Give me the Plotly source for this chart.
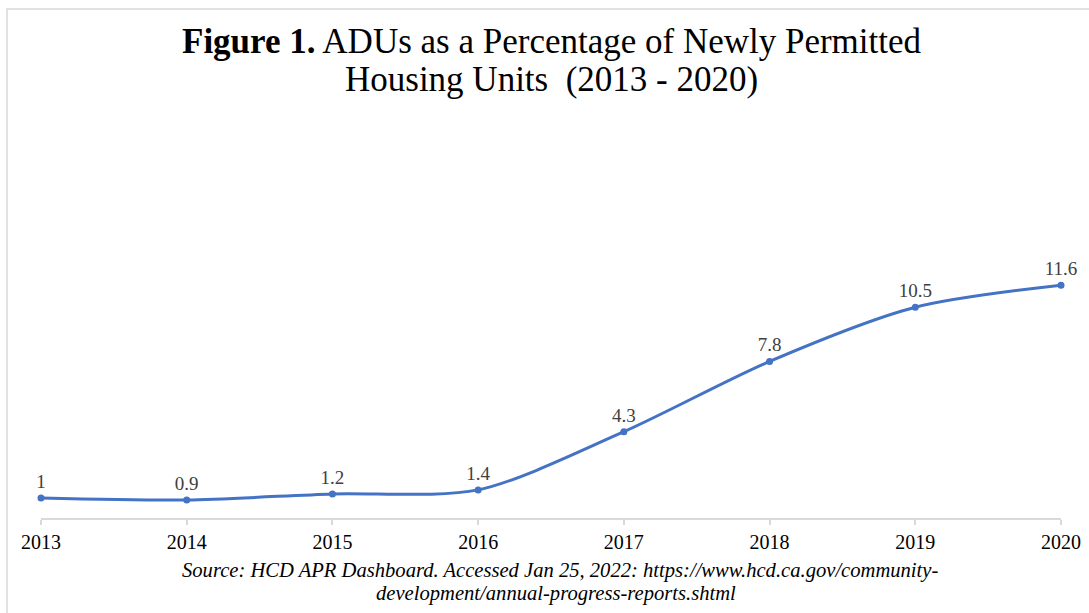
import plotly.graph_objects as go

years = [2013, 2014, 2015, 2016, 2017, 2018, 2019, 2020]
adu_pct = [1, 0.9, 1.2, 1.4, 4.3, 7.8, 10.5, 11.6]
labels = ["1", "0.9", "1.2", "1.4", "4.3", "7.8", "10.5", "11.6"]

title_lines = ["<b>Figure 1.</b> ADUs as a Percentage of Newly Permitted",
               "Housing Units &nbsp;(2013 - 2020)"]
source_lines = ["<i>Source: HCD APR Dashboard. Accessed Jan 25, 2022: https://www.hcd.ca.gov/community-</i>",
                "<i>development/annual-progress-reports.shtml</i>"]

W, H = 1089, 613
ML, MR, MT, MB = 41, 28, 237, 95
pw, ph = W - ML - MR, H - MT - MB

def px_x(p):
    return (p - ML) / pw

def px_y(p):
    return (H - MB - p) / ph

fig = go.Figure()
fig.add_trace(go.Scatter(
    x=years, y=adu_pct, mode="lines+markers+text",
    line=dict(color="#4472C4", width=3, shape="spline", smoothing=0.8),
    marker=dict(color="#4472C4", size=7),
    text=labels, textposition="top center",
    textfont=dict(family="Liberation Serif", size=19, color="#404040"),
    cliponaxis=False, hoverinfo="x+y",
))

annotations = []
for txt, cx, cy in zip(title_lines, [552, 551], [41, 80]):
    annotations.append(dict(
        text=txt, xref="paper", yref="paper", x=px_x(cx), y=px_y(cy),
        xanchor="center", yanchor="middle", showarrow=False,
        font=dict(family="Liberation Serif", size=35, color="#000000"),
    ))
for txt, cx, cy in zip(source_lines, [560, 556], [570, 593]):
    annotations.append(dict(
        text=txt, xref="paper", yref="paper", x=px_x(cx), y=px_y(cy),
        xanchor="center", yanchor="middle", showarrow=False,
        font=dict(family="Liberation Serif", size=20.6, color="#000000"),
    ))

fig.update_layout(
    width=W, height=H,
    margin=dict(l=ML, r=MR, t=MT, b=MB, pad=0, autoexpand=False),
    paper_bgcolor="white", plot_bgcolor="white",
    showlegend=False,
    font=dict(family="Liberation Serif", color="#000000"),
    xaxis=dict(
        range=[2013, 2020], tickvals=years, ticktext=[str(y) for y in years],
        automargin=False,
        showgrid=False, zeroline=False, showline=True, linecolor="#d9d9d9", linewidth=2,
        ticks="outside", ticklen=5, tickcolor="#d9d9d9", tickwidth=2,
        tickfont=dict(family="Liberation Serif", size=20, color="#000000"),
    ),
    yaxis=dict(range=[0, 14], visible=False, automargin=False),
    shapes=[dict(
        type="rect", xref="paper", yref="paper",
        x0=px_x(7), x1=px_x(1200), y0=px_y(700), y1=px_y(9),
        line=dict(color="#d9d9d9", width=1.5), fillcolor="rgba(0,0,0,0)", layer="below",
    )],
    annotations=annotations,
)

fig.write_html("out.html")
